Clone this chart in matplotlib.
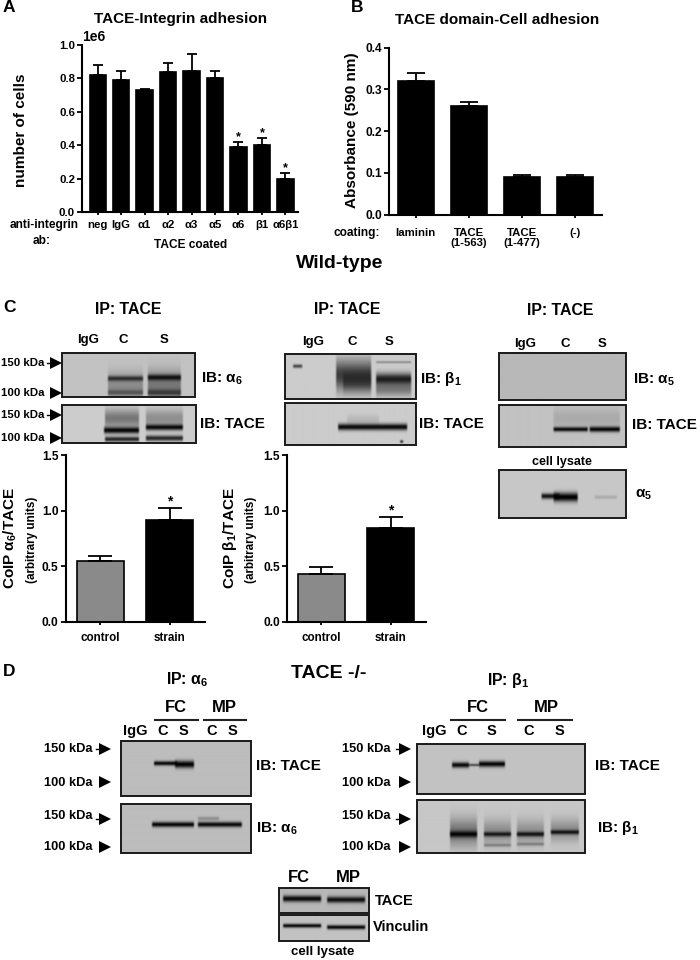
import numpy as np
import matplotlib
matplotlib.use("Agg")
import matplotlib.pyplot as plt
from matplotlib.patches import Rectangle

plt.rcParams['font.family'] = ['Liberation Sans', 'DejaVu Sans']
plt.rcParams['font.weight'] = 'bold'
plt.rcParams['mathtext.fontset'] = 'custom'
plt.rcParams['mathtext.rm'] = 'Liberation Sans:bold'
plt.rcParams['mathtext.it'] = 'Liberation Serif:bold'
plt.rcParams['mathtext.bf'] = 'Liberation Sans:bold'
plt.rcParams['mathtext.default'] = 'rm'

# ---- data ----
a_labels = ['neg', 'IgG', 'α1', 'α2', 'α3', 'α5', 'α6', 'β1', 'α6β1']
a_values = [820000, 790000, 730000, 835000, 840000, 800000, 390000, 400000, 200000]
a_errors = [60000, 55000, 8000, 53000, 105000, 40000, 28000, 42000, 35000]
a_ticks = [0, 200000, 400000, 600000, 800000, 1000000]
a_starred = [6, 7, 8]

b_labels = ['laminin', 'TACE\n(1-563)', 'TACE\n(1-477)', '(-)']
b_values = [0.32, 0.26, 0.09, 0.09]
b_errors = [0.02, 0.01, 0.005, 0.005]
b_ticks = [0.0, 0.1, 0.2, 0.3, 0.4]

c_labels = ['control', 'strain']
c1_values = [0.55, 0.92]
c1_errors = [0.04, 0.10]
c2_values = [0.43, 0.84]
c2_errors = [0.06, 0.10]
c_ticks = [0.0, 0.5, 1.0, 1.5]

W, H = 700, 960
fig = plt.figure(figsize=(W / 100, H / 100), dpi=100, facecolor='white')


def ax_px(x0, yt, x1, yb):
    a = fig.add_axes([x0 / W, 1 - yb / H, (x1 - x0) / W, (yb - yt) / H])
    a.patch.set_alpha(0)
    for s in ('top', 'right'):
        a.spines[s].set_visible(False)
    for s in ('left', 'bottom'):
        a.spines[s].set_linewidth(1.5)
    a.tick_params(width=1.3, length=3.5, labelsize=8.2, pad=1.5)
    return a


def bars(a, values, errors, colors, width, cap):
    xs = np.arange(len(values))
    a.bar(xs, values, width=width, color=colors, edgecolor='black', linewidth=1.2)
    a.errorbar(xs, values, yerr=[np.zeros(len(values)), errors], fmt='none',
               ecolor='black', elinewidth=1.3, capsize=cap, capthick=1.3)


# Panel A
axA = ax_px(82, 44.7, 298, 212)
bars(axA, a_values, a_errors, 'black', 0.70, 3.6)
axA.set_xlim(-0.67, 8.54)
axA.set_ylim(0, 1000000)
axA.set_yticks(a_ticks)
axA.set_xticks(range(len(a_labels)))
axA.set_xticklabels(a_labels, fontsize=8.2)
axA.tick_params(axis='x', length=2.5, pad=3.5)
for i in a_starred:
    axA.annotate('*', (i, a_values[i] + a_errors[i]), xytext=(0, -1),
                 textcoords='offset points', ha='center', va='bottom', fontsize=9)

# Panel B
axB = ax_px(389, 47.7, 601.7, 214.7)
bars(axB, b_values, b_errors, 'black', 36 / 53, 6.8)
axB.set_xlim(-0.5, 3.5)
axB.set_ylim(0, 0.4)
axB.set_yticks(b_ticks)
axB.set_xticks(range(len(b_labels)))
axB.set_xticklabels(b_labels, fontsize=8.2, linespacing=1.05)
axB.tick_params(axis='x', length=2.5, pad=7)
axB.tick_params(axis='y', labelsize=8.6)
axB.yaxis.set_major_formatter(matplotlib.ticker.FormatStrFormatter('%.1f'))

# Panels C
axC1 = ax_px(65.5, 455, 205, 622)
bars(axC1, c1_values, c1_errors, ['#8a8a8a', 'black'], 46.7 / 69.3, 8.6)
axC1.set_xlim(-0.5, 1.51)
axC2 = ax_px(286.7, 455, 426, 622)
bars(axC2, c2_values, c2_errors, ['#8a8a8a', 'black'], 46.7 / 69.3, 8.6)
axC2.set_xlim(-0.5, 1.51)
for a, v, e in ((axC1, c1_values, c1_errors), (axC2, c2_values, c2_errors)):
    a.set_ylim(0, 1.5)
    a.set_yticks(c_ticks)
    a.yaxis.set_major_formatter(matplotlib.ticker.FormatStrFormatter('%.1f'))
    a.set_xticks(range(len(c_labels)))
    a.set_xticklabels(c_labels, fontsize=8.4)
    a.tick_params(axis='x', length=2.5, pad=5)
    a.tick_params(axis='y', labelsize=8.6)
    a.annotate('*', (1, v[1] + e[1]), xytext=(0, 0), textcoords='offset points',
               ha='center', va='bottom', fontsize=10)

# Overlay in reference pixel coordinates
ov = fig.add_axes([0, 0, 1, 1], zorder=5)
ov.patch.set_alpha(0)
ov.axis('off')


def T(x, y, s, size=8.2, ha='center', **kw):
    ov.text(x, y, s, fontsize=size, ha=ha, va='center', **kw)


def blot(x0, yt, x1, yb, bg, bands=(), lw=1.4):
    """Synthetic film strip: bands = (x0, x1, y, half height, darkness)."""
    nx, ny = int((x1 - x0) * 3), int((yb - yt) * 3)
    xx = np.linspace(x0, x1, nx)
    yy = np.linspace(yt, yb, ny)
    dark = np.zeros((ny, nx))
    for bx0, bx1, by, bh, d in bands:
        ex = np.clip((xx - bx0) / 2.0, 0, 1) * np.clip((bx1 - xx) / 2.0, 0, 1)
        ey = np.exp(-((yy - by) / bh) ** 2)
        dark = 1 - (1 - dark) * (1 - d * np.outer(ey, ex))
    img = bg * (1 - dark)
    ov.imshow(img, extent=(x0, x1, yb, yt), cmap='gray', vmin=0, vmax=1,
              aspect='auto', interpolation='bilinear', zorder=1)
    ov.add_patch(Rectangle((x0, yt), x1 - x0, yb - yt, fill=False,
                           edgecolor='#1a1a1a', linewidth=lw, zorder=2))


def arrow(x, y, tail=False):
    ov.plot([x], [y], marker='>', ms=8.5, color='black', mew=0, zorder=3)
    if tail:
        ov.plot([x - 9, x - 3], [y, y], color='black', lw=1, zorder=3)


# Panel letters and headings
T(3, 8, 'A', 12.5, 'left')
T(351, 7, 'B', 12.5, 'left')
T(3, 307, 'C', 12.5, 'left')
T(3, 672, 'D', 12.5, 'left')
T(181, 19, 'TACE-Integrin adhesion', 11)
T(497, 20, 'TACE domain-Cell adhesion', 11)
T(20.7, 130, 'number of cells', 11, rotation=90)
T(352, 130, 'Absorbance (590 nm)', 11, rotation=90)
T(43.7, 224.7, 'anti-integrin', 8.6)
T(41.7, 241, 'ab:', 8.6)
T(191, 245, 'TACE coated', 8.6)
T(380, 233, 'coating:', 8.6, 'right')
T(340, 264, 'Wild-type', 14)
T(329, 674, 'TACE -/-', 14)

# Panel C headings
T(128, 309, 'IP: TACE', 11.4)
T(347, 309, 'IP: TACE', 11.4)
T(560, 310.7, 'IP: TACE', 11.4)
for x, s in ((88, 'IgG'), (123, 'C'), (164, 'S')):
    T(x, 340, s, 9.5)
for x, s in ((312.7, 'IgG'), (352, 'C'), (389, 'S')):
    T(x, 342, s, 9.5)
for x, s in ((525, 'IgG'), (565, 'C'), (602, 'S')):
    T(x, 343.7, s, 9.5)

# C blots
blot(62, 352.7, 195, 397.3, 0.76, [
    (107, 144, 386, 13, 0.28), (147, 182, 385, 14, 0.38),
    (107, 144, 379, 2.6, 0.72), (147, 182, 378, 3, 0.9),
    (107, 144, 393, 3, 0.45), (147, 182, 393, 3.5, 0.6)])
blot(62, 404.7, 196, 442.7, 0.80, [
    (104, 140, 418, 9, 0.42), (145, 184, 418, 9, 0.3),
    (103, 140, 430, 3.3, 0.97), (145, 184, 427, 3, 0.95),
    (104, 140, 439, 2.6, 0.8), (145, 184, 438, 2.8, 0.8)])
blot(285, 354, 415.7, 398.7, 0.80, [
    (292, 303, 366, 1.8, 0.65),
    (335, 372, 375, 15, 0.7), (342, 372, 382, 9, 0.45),
    (375, 412, 379, 6, 0.85), (375, 412, 389, 7, 0.4),
    (375, 412, 362, 1.2, 0.3)])
blot(285, 403, 415.7, 445, 0.80, [
    (337, 408, 427, 3.3, 0.95), (346, 380, 420, 5, 0.1),
    (399, 404, 441.7, 1.5, 0.75)])
blot(498.7, 352.7, 626, 400, 0.72)
blot(498.7, 404.7, 626, 446.7, 0.76, [
    (552, 620, 418, 10, 0.12), (552, 588, 429, 2.3, 0.95),
    (588, 620, 429, 2.7, 0.97)])
blot(498.7, 470, 626, 517.7, 0.78, [
    (540, 560, 496, 2.8, 0.9), (552, 578, 497, 4.5, 1.0),
    (593, 617, 497, 1.8, 0.14)])

for x, y, s in ((200.7, 379, 'IB: $\\alpha_6$'), (200, 424, 'IB: TACE'),
                (420, 379, 'IB: $\\beta_1$'), (419, 424, 'IB: TACE'),
                (633, 379.7, 'IB: $\\alpha_5$'), (632, 425, 'IB: TACE'),
                (635, 495, '$\\alpha_5$')):
    T(x, y, s, 11, 'left')
T(562, 461.7, 'cell lysate', 9)

for y, s, tail in ((363, '150 kDa', True), (392.7, '100 kDa', False),
                   (415, '150 kDa', True), (438, '100 kDa', False)):
    T(1, y, s, 8.2, 'left')
    arrow(56, y, tail)

T(10, 538, 'CoIP $\\alpha_6$/TACE', 11, rotation=90)
T(31.7, 540, '(arbitrary units)', 8.4, rotation=90)
T(230, 538, 'CoIP $\\beta_1$/TACE', 11, rotation=90)
T(250.7, 540, '(arbitrary units)', 8.4, rotation=90)

# Panel D
T(186.7, 680, 'IP: $\\alpha_6$', 11.4)
T(508, 680, 'IP: $\\beta_1$', 11.4)
for cx, s in ((175.7, 'FC'), (224, 'MP'), (477.7, 'FC'), (546, 'MP')):
    T(cx, 708, s, 12)
for xa, xb in ((155, 197.7), (204, 246), (451, 505), (518, 571.7)):
    ov.plot([xa, xb], [720, 720], color='#222222', lw=1.5)
for x, s in ((135, 'IgG'), (162.7, 'C'), (183, 'S'), (211.7, 'C'), (232.7, 'S'),
             (434, 'IgG'), (462, 'C'), (491, 'S'), (529, 'C'), (559, 'S')):
    T(x, 730.7, s, 10.5)

blot(121, 741, 251, 796.3, 0.74, [
    (153, 178, 764, 2.2, 0.97), (174, 195, 765, 3.6, 1.0)])
blot(121, 803.7, 251, 853.3, 0.74, [
    (151, 195, 825, 2.6, 0.97), (197, 243, 825, 2.6, 0.95),
    (197, 220, 819, 1.8, 0.25)])
blot(417, 744, 585, 794, 0.76, [
    (451, 470, 765, 2.8, 0.95), (468, 480, 765, 1.3, 0.6),
    (478, 506, 764, 3, 0.98)])
blot(417, 800, 585, 852.7, 0.78, [
    (449, 478, 832, 14, 0.42), (483, 512, 832, 12, 0.3),
    (516, 545, 832, 12, 0.28), (550, 580, 830, 11, 0.3),
    (449, 478, 834, 3.2, 0.97), (483, 512, 834, 2.3, 0.85),
    (516, 545, 834, 2.4, 0.88), (550, 580, 832, 2.2, 0.88),
    (483, 512, 845, 1.6, 0.3), (516, 545, 844, 1.6, 0.3)])
T(255.7, 766, 'IB: TACE', 11, 'left')
T(255.7, 829, 'IB: $\\alpha_6$', 11, 'left')
T(595, 766, 'IB: TACE', 11, 'left')
T(596.7, 827.7, 'IB: $\\beta_1$', 11, 'left')

for left, xa in ((43.7, 105), (342, 405)):
    for y_t, y_a, s, tail in ((749, 749, '150 kDa', True), (782.7, 781.7, '100 kDa', False),
                              (816, 819, '150 kDa', True), (847.3, 846.7, '100 kDa', False)):
        T(left, y_t, s, 9.3, 'left')
        arrow(xa, y_a, tail)

# Lysate strips
T(299, 878, 'FC', 12)
T(348, 878, 'MP', 12)
blot(279, 888.3, 368.7, 913.3, 0.72, [
    (282, 322, 899, 3.2, 0.95), (326, 366, 900, 3.2, 0.92)])
blot(279, 915.3, 368.7, 941.3, 0.76, [
    (282, 322, 926, 2, 0.95), (326, 366, 927.5, 2.2, 0.95)])
T(375, 900.7, 'TACE', 10.5, 'left')
T(373, 926.7, 'Vinculin', 10.5, 'left')
T(323, 951.7, 'cell lysate', 9.5)

ov.set_xlim(0, W)
ov.set_ylim(H, 0)
fig.savefig('out.png', dpi=100, facecolor='white')
